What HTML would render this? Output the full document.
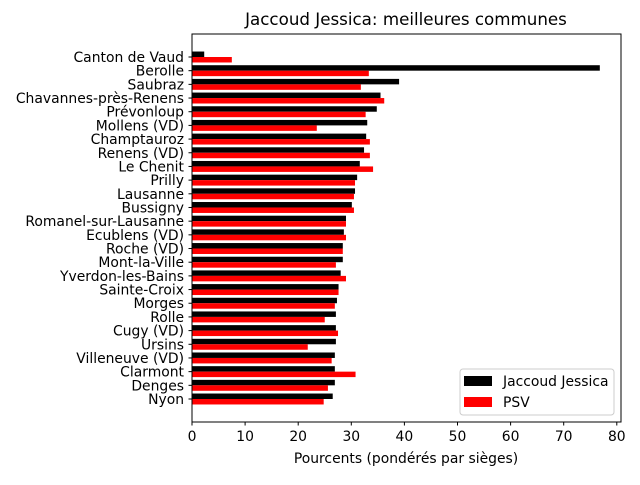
<!DOCTYPE html>
<html><head><meta charset="utf-8"><style>
body{margin:0;background:#fff}
svg text{font-family:"DejaVu Sans","Liberation Sans",sans-serif;fill:#000}
</style></head><body>
<svg id="chart" width="640" height="480" xmlns="http://www.w3.org/2000/svg">
<rect width="640" height="480" fill="#fff"/>
<text x="406" y="25" font-size="16.7" text-anchor="middle">Jaccoud Jessica: meilleures communes</text>
<g id="marks"></g>
<g id="yticks"></g>
<g id="xticks"></g>
<rect x="192" y="34" width="429" height="388" fill="none" stroke="#000" stroke-width="1"/>
<text x="406" y="463" font-size="13.9" text-anchor="middle">Pourcents (pondérés par sièges)</text>
<g>
<rect x="460" y="369" width="154" height="46" rx="3" fill="#fff" stroke="#ccc"/>
<rect x="464" y="376" width="28" height="10" fill="#000"/>
<text x="503" y="386" font-size="13.9">Jaccoud Jessica</text>
<rect x="464" y="397" width="28" height="10" fill="#f00"/>
<text x="503" y="407" font-size="13.9">PSV</text>
</g>
</svg>
<script>
const categories=["Canton de Vaud","Berolle","Saubraz","Chavannes-près-Renens","Prévonloup","Mollens (VD)","Champtauroz","Renens (VD)","Le Chenit","Prilly","Lausanne","Bussigny","Romanel-sur-Lausanne","Ecublens (VD)","Roche (VD)","Mont-la-Ville","Yverdon-les-Bains","Sainte-Croix","Morges","Rolle","Cugy (VD)","Ursins","Villeneuve (VD)","Clarmont","Denges","Nyon"];
const jaccoud=[2.3,76.8,39,35.5,34.8,33,32.8,32.4,31.6,31.1,30.7,30.1,29,28.6,28.4,28.4,28,27.6,27.3,27.1,27.1,27.1,26.9,26.9,26.9,26.5];
const psv=[7.5,33.3,31.8,36.2,32.7,23.5,33.5,33.5,34.1,30.7,30.5,30.5,29,29,28.4,27.1,29,27.6,26.9,25,27.5,21.8,26.3,30.8,25.6,24.8];
const xTicks=[0,10,20,30,40,50,60,70,80];
const NS="http://www.w3.org/2000/svg";
const x=v=>192+v*5.31;
const y=i=>57+i*13.68;
const bh=5.47;
function mk(tag,attrs,parent){const e=document.createElementNS(NS,tag);for(const k in attrs)e.setAttribute(k,attrs[k]);parent.appendChild(e);return e;}
const marks=document.getElementById('marks'),yt=document.getElementById('yticks'),xt=document.getElementById('xticks');
categories.forEach((c,i)=>{
  const b=mk('rect',{x:x(0),y:y(i)-bh,width:x(jaccoud[i])-x(0),height:bh,fill:'#000'},marks);
  
  
  const r=mk('rect',{x:x(0),y:y(i),width:x(psv[i])-x(0),height:bh,fill:'#f00'},marks);
  
  
  mk('line',{x1:188.5,x2:192,y1:y(i),y2:y(i),stroke:'#000'},yt);
  const t=mk('text',{x:184,y:y(i)+5,'font-size':13.9,'text-anchor':'end'},yt);
  t.textContent=c;
  
  
});
xTicks.forEach(v=>{
  mk('line',{x1:x(v),x2:x(v),y1:422,y2:425.5,stroke:'#000'},xt);
  const t=mk('text',{x:x(v),y:441,'font-size':13.9,'text-anchor':'middle'},xt);
  t.textContent=v;
  
  
});
</script>
</body></html>
